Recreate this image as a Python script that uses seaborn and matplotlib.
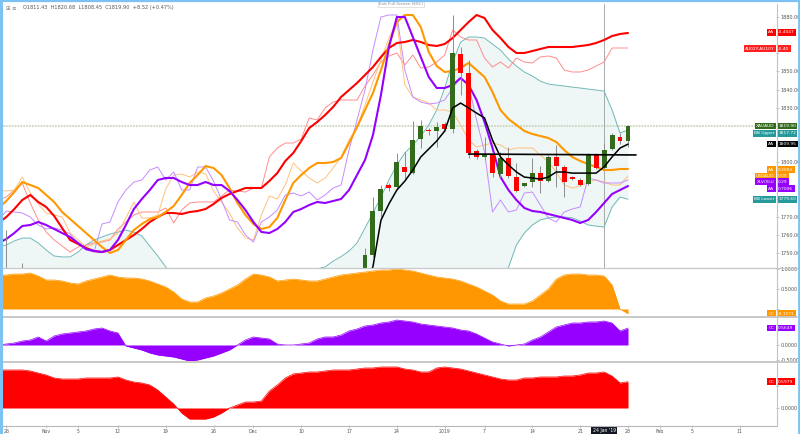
import numpy as np
import pandas as pd
import matplotlib
matplotlib.use("Agg")
import matplotlib.pyplot as plt
import matplotlib.transforms as mtransforms
from matplotlib.lines import Line2D
import seaborn as sns

# ---------------- data ----------------
bars = np.arange(-79, 1)  # trading-bar index, 0 = 28 Jan 2019

candle_bar = [-78, -76, -33, -32, -31, -30, -29, -28, -27, -26, -25, -24, -23, -22, -21, -20, -19, -18,
              -17, -16, -15, -14, -13, -12, -11, -10, -9, -8, -7, -6, -5, -4, -3, -2, -1, 0]
c_open = [1728, 1735, 1740.0, 1748.9, 1773.1, 1787.4, 1786.3, 1797.4, 1794.0, 1812.8, 1817.7, 1817.2,
          1821.0, 1818.3, 1859.6, 1849.1, 1806.2, 1802.9, 1804.0, 1793.5, 1802.3, 1791.8, 1786.9, 1789.1,
          1794.0, 1789.6, 1802.9, 1797.4, 1791.3, 1790.2, 1788.0, 1804.0, 1796.8, 1807.3, 1813.9, 1811.43]
c_high = [1762.6, 1744.5, 1752.7, 1780.8, 1787.4, 1788.5, 1805.1, 1805.6, 1822.7, 1823.3, 1818.8, 1822.1,
          1822.1, 1881.0, 1863.5, 1856.3, 1807.3, 1813.9, 1805.6, 1805.6, 1808.4, 1799.6, 1788.5, 1802.3,
          1797.9, 1804.0, 1809.5, 1798.5, 1792.4, 1791.3, 1805.1, 1805.1, 1810.6, 1816.1, 1816.1, 1820.68]
c_low = [1722, 1726, 1736.0, 1747.8, 1769.8, 1784.1, 1784.7, 1790.2, 1793.5, 1807.8, 1815.0, 1808.4,
         1817.2, 1816.1, 1837.0, 1802.3, 1801.8, 1801.2, 1791.8, 1791.8, 1791.3, 1783.6, 1786.6, 1786.3,
         1783.0, 1789.1, 1786.3, 1780.8, 1790.2, 1786.9, 1787.4, 1796.3, 1796.3, 1806.7, 1810.0, 1808.45]
c_close = [1733, 1731, 1748.9, 1773.1, 1785.2, 1785.8, 1800.1, 1794.6, 1812.2, 1819.9, 1817.2, 1819.4,
           1818.3, 1860.2, 1849.1, 1805.1, 1802.9, 1804.5, 1794.0, 1802.3, 1792.4, 1784.1, 1788.5, 1794.0,
           1789.6, 1802.9, 1797.9, 1789.1, 1791.0, 1787.4, 1804.0, 1796.8, 1806.7, 1815.0, 1811.7, 1819.90]

ma_bar = list(range(-33, 1))
ma_black = [1729.6, 1742.5, 1768.0, 1777.0, 1784.7, 1789.6, 1795.7, 1802.9, 1807.3, 1811.7, 1817.2,
            1829.9, 1832.6, 1829.9, 1827.1, 1824.4, 1812.2, 1802.9, 1798.5, 1794.6, 1791.8, 1791.3,
            1790.7, 1791.8, 1794.6, 1794.6, 1794.0, 1794.0, 1794.0, 1794.0, 1797.4, 1802.9, 1807.8, 1809.95]

support_x = [-20, 1]
support_y = [1804.5, 1804.0]

bb_upper = [1753.3, 1754.4, 1756.6, 1758.2, 1758.2, 1755.5, 1751.6, 1748.3, 1747.8, 1747.8,
            1750.5, 1754.4, 1757.1, 1758.8, 1760.4, 1761.5, 1762.6, 1761.5, 1759.3, 1753.8,
            1748.3, 1742.3, 1735, 1730, 1726, 1723, 1721, 1720, 1720, 1721,
            1723, 1725, 1727, 1729, 1731, 1733, 1735, 1737, 1739, 1740.5,
            1741.2, 1742.3, 1745.5, 1748.0, 1751.0, 1755.5, 1763.7, 1772.0, 1780.8, 1790.2,
            1798.5, 1805.1, 1809.5, 1814.4, 1820.5, 1828.8, 1840.9, 1855.2, 1866.2, 1869.0,
            1869.0, 1868.4, 1865.1, 1861.8, 1856.9, 1853.0, 1849.7, 1847.5, 1844.7, 1843.1,
            1842.5, 1842.0, 1841.4, 1840.9, 1840.3, 1839.8, 1839.2, 1828.8, 1816.1, 1817.72]
bb_lower = [1700, 1698, 1697, 1697, 1698, 1700, 1702, 1703, 1702, 1700,
            1697, 1694, 1692, 1690, 1689, 1688, 1688, 1690, 1693, 1697,
            1701, 1704, 1706, 1707, 1707, 1706, 1704, 1702, 1700, 1699,
            1698, 1698, 1698, 1699, 1700, 1701, 1702, 1703, 1704, 1705,
            1706, 1707, 1706, 1705, 1704, 1702, 1699, 1696, 1693, 1690,
            1688, 1687, 1688, 1690, 1693, 1697, 1701, 1706, 1712, 1718,
            1724, 1729, 1733, 1736, 1742.0, 1754.4, 1761.0, 1765.4, 1768.2, 1769.3,
            1769.8, 1769.8, 1769.3, 1767.6, 1765.4, 1764.8, 1764.3, 1775.3, 1780.8, 1779.60]

# overlay instruments, each on its own (hidden) overlay scale
red_thick = [45, 51, 59, 68, 73, 66, 61, 52, 40, 28, 24, 20, 17, 16, 18, 23, 28, 33, 39, 46,
             51, 55, 55, 54, 56, 57, 59, 64, 70, 74, 77, 80, 80, 80, 87, 95, 107, 115, 127, 140,
             146, 153, 161, 171, 178, 185, 193, 201, 211, 220, 225, 226, 228, 226, 223, 222, 224, 230, 238, 246,
             253, 250, 238, 230, 221, 215, 215, 217, 219, 221, 221, 221, 221, 222, 223, 225, 228, 232, 234, 235]
red_thin = [68, 71, 78, 85, 65, 48, 36, 28, 22, 16, 21, 23, 25, 26, 28, 39, 46, 53, 56, 56,
            56, 60, 45, 58, 65, 66, 66, 66, 72, 78, 77, 76, 80, 80, 111, 120, 125, 125, 129, 150,
            148, 160, 166, 168, 168, 168, 182, 193, 206, 212, 215, 203, 213, 200, 201, 206, 213, 238, 231, 228,
            228, 210, 201, 206, 200, 210, 206, 205, 211, 212, 210, 198, 196, 196, 198, 202, 206, 220, 220, 220]
orange_thick = [60, 67, 76, 86, 83, 80, 73, 66, 56, 49, 42, 35, 28, 21, 15, 18, 28, 38, 44, 49,
                51, 56, 62, 73, 85, 93, 102, 100, 93, 80, 65, 53, 44, 39, 41, 50, 68, 85, 93, 100,
                105, 105, 106, 110, 125, 141, 158, 175, 198, 223, 246, 253, 253, 241, 216, 202, 196, 197, 200, 205,
                198, 191, 176, 158, 149, 143, 137, 134, 132, 130, 126, 118, 111, 107, 104, 101, 98, 98, 99, 99]
orange_thin = [78, 77, 78, 91, 75, 64, 55, 53, 51, 35, 28, 21, 24, 27, 29, 35, 50, 66, 50, 50,
               53, 79, 93, 94, 91, 96, 94, 77, 66, 55, 40, 30, 28, 53, 72, 69, 83, 105, 97, 90,
               85, 90, 100, 111, 128, 141, 163, 186, 208, 230, 246, 183, 171, 168, 165, 158, 158, 156, 143, 128,
               121, 123, 125, 123, 118, 120, 120, 120, 113, 106, 96, 83, 80, 82, 86, 88, 86, 83, 83, 92]
purple_thick = [25, 29, 35, 42, 43, 46, 43, 39, 35, 31, 25, 19, 17, 16, 18, 28, 43, 59, 69, 78,
                88, 90, 90, 86, 83, 83, 86, 83, 83, 77, 68, 58, 46, 36, 35, 39, 46, 56, 59, 63,
                66, 65, 67, 69, 78, 93, 108, 133, 173, 221, 251, 251, 231, 211, 191, 180, 180, 183, 190, 183,
                168, 146, 120, 91, 78, 68, 60, 57, 56, 54, 52, 50, 48, 45, 48, 56, 65, 74, 78, 82]
purple_thin = [48, 57, 56, 55, 51, 43, 39, 40, 38, 34, 24, 18, 16, 44, 46, 66, 78, 86, 88, 98,
               101, 88, 96, 78, 78, 101, 101, 87, 68, 48, 46, 33, 26, 46, 51, 58, 73, 75, 72, 76,
               68, 73, 80, 83, 118, 148, 178, 218, 251, 253, 253, 198, 171, 166, 164, 165, 168, 180, 190, 183,
               148, 116, 56, 68, 56, 58, 75, 76, 63, 50, 46, 56, 59, 61, 90, 88, 85, 85, 85, 88]

# correlation coefficient panes
cc_orange = [0.85, 0.85, 0.875, 0.875, 0.9, 0.825, 0.725, 0.725, 0.7, 0.65,
             0.625, 0.7, 0.75, 0.8, 0.85, 0.8, 0.775, 0.775, 0.75, 0.7,
             0.625, 0.55, 0.425, 0.25, 0.175, 0.175, 0.275, 0.325, 0.4, 0.5,
             0.6, 0.75, 0.875, 0.85, 0.8, 0.7, 0.725, 0.75, 0.725, 0.7,
             0.7, 0.75, 0.8, 0.85, 0.875, 0.9, 0.925, 0.95, 0.975, 0.975,
             1.0, 0.975, 0.95, 0.9, 0.85, 0.8, 0.775, 0.75, 0.7, 0.625,
             0.55, 0.45, 0.35, 0.2, 0.125, 0.125, 0.125, 0.2, 0.35, 0.5,
             0.75, 0.85, 0.875, 0.875, 0.85, 0.85, 0.825, 0.6, 0.0, -0.1171]
cc_purple = [0.0, 0.033, 0.067, 0.133, 0.167, 0.267, 0.133, 0.3, 0.367, 0.4,
             0.433, 0.467, 0.533, 0.567, 0.467, 0.4, -0.033, -0.1, -0.167, -0.267,
             -0.333, -0.367, -0.4, -0.467, -0.533, -0.5, -0.433, -0.367, -0.267, -0.167,
             0.0, 0.167, 0.267, 0.233, 0.2, 0.033, 0.0, 0.0, 0.033, 0.067,
             0.2, 0.267, 0.267, 0.333, 0.467, 0.533, 0.633, 0.667, 0.733, 0.767,
             0.833, 0.8, 0.767, 0.7, 0.667, 0.633, 0.6, 0.567, 0.5, 0.467,
             0.367, 0.233, 0.1, 0.033, -0.033, 0.0, 0.033, 0.167, 0.267, 0.433,
             0.6, 0.667, 0.733, 0.733, 0.767, 0.767, 0.8, 0.733, 0.467, 0.5649]
cc_red = [0.864, 0.864, 0.864, 0.864, 0.841, 0.795, 0.75, 0.682, 0.659, 0.659,
          0.659, 0.682, 0.682, 0.682, 0.682, 0.705, 0.636, 0.591, 0.568, 0.523,
          0.409, 0.25, 0.091, -0.114, -0.25, -0.25, -0.25, -0.205, -0.114, 0.0,
          0.068, 0.136, 0.136, 0.159, 0.386, 0.523, 0.682, 0.773, 0.795, 0.818,
          0.818, 0.841, 0.864, 0.864, 0.864, 0.886, 0.909, 0.909, 0.932, 0.932,
          0.932, 0.886, 0.864, 0.818, 0.818, 0.909, 0.932, 0.909, 0.886, 0.841,
          0.795, 0.75, 0.705, 0.659, 0.636, 0.636, 0.682, 0.682, 0.705, 0.705,
          0.705, 0.727, 0.727, 0.75, 0.795, 0.795, 0.818, 0.727, 0.568, 0.5979]

tick_bars = [-78, -73, -69, -64, -58, -52, -47, -41, -35, -29, -23, -18, -12, -6, 0, 4, 8, 14]
tick_labels = ["26", "Nov", "5", "12", "19", "26", "Dec", "10", "17", "24", "2019", "7", "14", "21",
               "28", "Feb", "5", "11"]
price_ticks = [1750, 1760, 1770, 1780, 1790, 1800, 1810, 1820, 1830, 1840, 1850, 1860, 1870, 1880]
# prices whose scale label sits under a value tag in the reference
price_hidden = [1780, 1790, 1810, 1820, 1860, 1870]

header = "O1811.43  H1820.68  L1808.45  C1819.90  +8.52 (+0.47%)"

# ---------------- styling ----------------
sns.set_theme(style="white")
plt.rcParams["font.family"] = ["DejaVu Sans"]

W, H = 800, 434
fig = plt.figure(figsize=(W / 100, H / 100), dpi=100)
fig.patch.set_facecolor("white")


def rect(l, t, r, b):
    return [l / W, 1 - b / H, (r - l) / W, (b - t) / H]


XL = (-78.42, 18.57)
ax = fig.add_axes(rect(3, 4, 776, 268))
ax_ov = fig.add_axes(rect(3, 4, 776, 268))
ax_ov.set_visible(False)
ax1 = fig.add_axes(rect(3, 268, 776, 317))
ax2 = fig.add_axes(rect(3, 317, 776, 362))
ax3 = fig.add_axes(rect(3, 362, 776, 425))

for a in (ax, ax_ov, ax1, ax2, ax3):
    a.set_xlim(*XL)
    a.patch.set_alpha(0)
    for s in a.spines.values():
        s.set_visible(False)

ax.set_ylim(1741.7, 1887.2)
ax_ov.set_ylim(0, 264)
ax1.set_ylim(-0.2, 1.025)
ax2.set_ylim(-0.567, 0.933)
ax3.set_ylim(-0.386, 1.045)

GREEN = "#336b1c"
RED = "#ff0000"
ORANGE = "#ff9800"
PURPLE = "#9500ff"
TEAL = "#72b8b8"

# Bollinger band
ax.fill_between(bars, bb_lower, bb_upper, color="#eef6f6", lw=0, zorder=1)
sns.lineplot(x=bars, y=bb_upper, ax=ax, color=TEAL, linewidth=0.7, zorder=2)
sns.lineplot(x=bars, y=bb_lower, ax=ax, color=TEAL, linewidth=0.7, zorder=2)

# last price line and crosshair
ax.axhline(c_close[-1], color="#ccd6bd", lw=1.3, ls=(0, (1, 0.6)), zorder=1.5)
ax.axvline(-3, color="#9c9c9c", lw=0.6, zorder=1.6)

# overlays (own scale)
tr_ov = ax_ov.transData
ov = [(red_thin, "#ff8c8c", 0.7), (orange_thin, "#ffc27a", 0.7), (purple_thin, "#c58cff", 0.7),
      (red_thick, RED, 1.5), (orange_thick, ORANGE, 1.5), (purple_thick, PURPLE, 1.5)]
for vals, col, lw in ov:
    sns.lineplot(x=bars, y=vals, ax=ax, color=col, linewidth=lw, transform=tr_ov, zorder=3)

# candles
cdf = pd.DataFrame(dict(bar=candle_bar, o=c_open, h=c_high, l=c_low, c=c_close))
ax.vlines(cdf.bar, cdf.l, cdf.h, color="#8c8c8c", lw=0.7, zorder=4)
body_low = np.minimum(cdf.o, cdf.c)
body_h = np.maximum(np.abs(cdf.c - cdf.o), 0.6)
cols = [GREEN if c > o else RED for o, c in zip(cdf.o, cdf.c)]
ax.bar(cdf.bar, body_h, bottom=body_low, width=0.62, color=cols, lw=0, zorder=5)

# black average and support line
sns.lineplot(x=ma_bar, y=ma_black, ax=ax, color="black", linewidth=1.1, zorder=6)
sns.lineplot(x=support_x, y=support_y, ax=ax, color="black", linewidth=1.2, zorder=6)

# correlation panes
for a, vals, col in ((ax1, cc_orange, ORANGE), (ax2, cc_purple, PURPLE), (ax3, cc_red, RED)):
    a.fill_between(bars, 0, vals, color=col, lw=0, zorder=2)
    sns.lineplot(x=bars, y=vals, ax=a, color=col, linewidth=0.5, zorder=3)

# axes ticks
for a in (ax, ax_ov, ax1, ax2, ax3):
    a.set_xlabel("")
    a.set_ylabel("")
    a.grid(False)

ax.yaxis.tick_right()
ax.set_yticks(price_ticks)
ax.set_yticklabels(["" if p in price_hidden else f"{p:.2f}" for p in price_ticks])
ax1.yaxis.tick_right()
ax1.set_yticks([0.0, 0.5, 1.0])
ax1.set_yticklabels(["", "0.5000", "1.0000"])
ax2.yaxis.tick_right()
ax2.set_yticks([-0.5, 0.0])
ax2.set_yticklabels(["-0.5000", "0.0000"])
ax3.yaxis.tick_right()
ax3.set_yticks([0.0, 0.5])
ax3.set_yticklabels(["0.0000", ""])
for a in (ax, ax1, ax2, ax3):
    a.tick_params(axis="y", which="both", right=True, left=False, length=2.2, width=0.4, color="#999999",
                  labelsize=3.5, labelcolor="#555555", pad=1.2)
    a.tick_params(axis="x", bottom=False, labelbottom=False)
ax3.set_xticks(tick_bars)
ax3.set_xticklabels(tick_labels)
ax3.tick_params(axis="x", bottom=True, labelbottom=True, length=2, width=0.4, color="#999999",
                labelsize=3.3, labelcolor="#555555", pad=1.2)


# value tags on the scale
def tag(a, y, name, val, color, dy=0.0, trans=None, tcol="white"):
    tr = mtransforms.blended_transform_factory(a.transAxes, trans if trans is not None else a.transData)
    kw = dict(xycoords=tr, textcoords="offset points", va="center", fontsize=3.2, color=tcol,
              annotation_clip=False, zorder=30)
    if name:
        a.annotate(name, xy=(1, y), xytext=(-1.2, dy), ha="right",
                   bbox=dict(boxstyle="square,pad=0.3", fc=color, ec="none"), **kw)
    a.annotate(val, xy=(1, y), xytext=(1.6, dy), ha="left",
               bbox=dict(boxstyle="square,pad=0.3", fc=color, ec="none"), **kw)


tag(ax, red_thick[-1], "AA", "-0.4047", RED, 0.5, tr_ov)
tag(ax, red_thin[-1], "AU02Y-AU10Y", "-0.40", "#ff2020", -0.5, tr_ov)
tag(ax, c_close[-1], "XAUAUD", "1819.90", GREEN, 0.0)
tag(ax, bb_upper[-1], "BB Upper", "1817.72", "#26999a", -2.3)
tag(ax, ma_black[-1], "AA", "1809.95", "black", 0.0)
tag(ax, orange_thick[-1], "AA", "0.2004", ORANGE, -0.6, tr_ov)
tag(ax, orange_thin[-1], "USDAUD", "0.00", ORANGE, 0.0, tr_ov)
tag(ax, purple_thin[-1], "XLV/XLU", "0.29", PURPLE, -1.2, tr_ov)
tag(ax, purple_thick[-1], "AA", "0.7006", PURPLE, -2.0, tr_ov)
tag(ax, bb_lower[-1], "BB Lower", "1779.60", "#26999a", 0.0)
tag(ax1, cc_orange[-1], "CC", "-0.1171", ORANGE, 0.0)
tag(ax2, cc_purple[-1], "CC", "0.5649", PURPLE, 0.0)
tag(ax3, cc_red[-1], "CC", "0.5979", RED, 0.0)

# crosshair date tag
ax3.annotate("24 Jan '19", xy=(-3, 0), xycoords=mtransforms.blended_transform_factory(ax3.transData, ax3.transAxes),
             xytext=(0, -4.2), textcoords="offset points", ha="center", va="center", fontsize=3.3,
             color="white", bbox=dict(boxstyle="square,pad=0.35", fc="#131722", ec="none"),
             annotation_clip=False, zorder=30)


# frame lines (figure pixels)
def fline(x0, y0, x1, y1, color, lw):
    fig.add_artist(Line2D([x0 / W, x1 / W], [1 - y0 / H, 1 - y1 / H], color=color, lw=lw,
                          transform=fig.transFigure, zorder=50))


fline(776.5, 4, 776.5, 425, "#c4c4c4", 0.8)
fline(3, 268, 797, 268, "#c8c8c8", 0.9)
fline(3, 317, 797, 317, "#c8c8c8", 1.4)
fline(3, 362, 797, 362, "#c8c8c8", 1.4)
fline(3, 425.5, 776.5, 425.5, "#b8b8b8", 0.8)
fline(1, 0, 1, 434, "#7cc2f4", 2.2)
fline(0, 1.3, 800, 1.3, "#7cc2f4", 1.6)
fline(798.7, 0, 798.7, 434, "#7cc2f4", 2.0)

fig.text(6 / W, 1 - 8 / H, "⊞ ≡", fontsize=3.8, color="#777777", va="center", ha="left")
fig.text(23 / W, 1 - 8 / H, header, fontsize=3.6, color="#555555", va="center", ha="left")
fig.text(401 / W, 1 - 4 / H, "Exit Full Screen (ESC)", fontsize=3.0, color="#8a8a8a", va="center",
         ha="center", bbox=dict(boxstyle="square,pad=0.3", fc="white", ec="#cccccc", lw=0.4))

fig.savefig("out.png", dpi=100, facecolor="white")
